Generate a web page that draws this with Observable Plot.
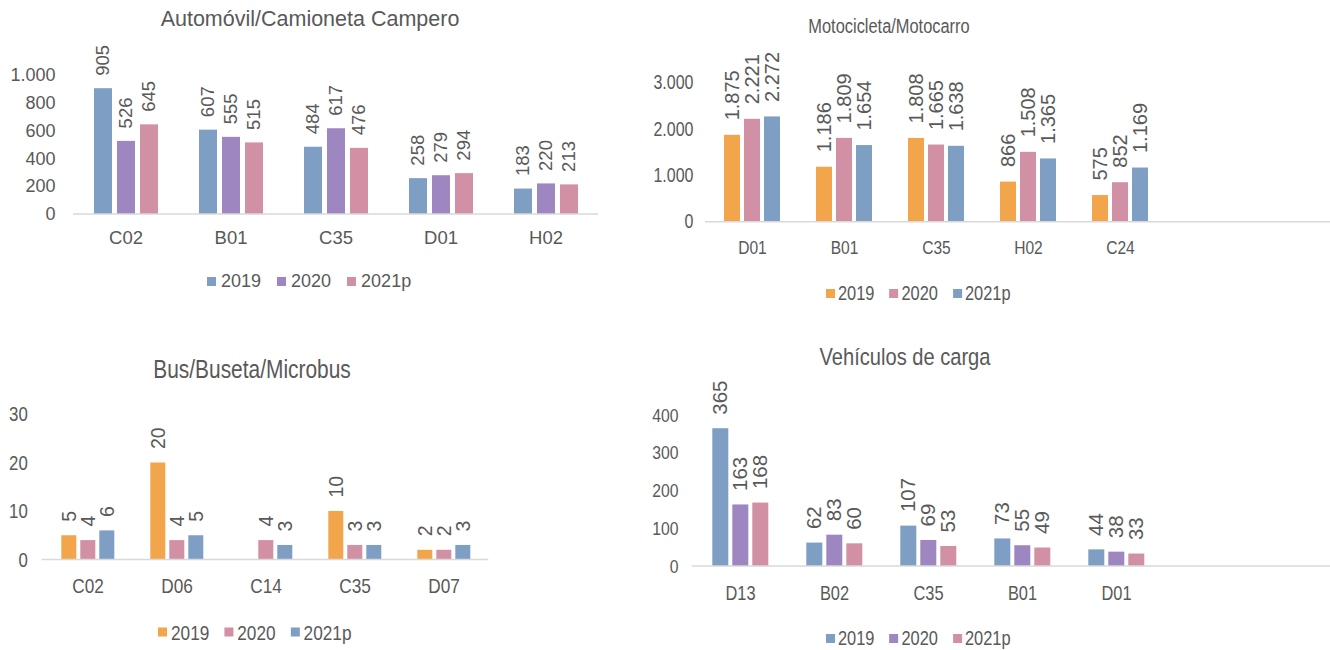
<!DOCTYPE html>
<html><head><meta charset="utf-8">
<script src="https://cdn.jsdelivr.net/npm/d3@7"></script>
<script src="https://cdn.jsdelivr.net/npm/@observablehq/plot@0.6"></script>
<style>
body{margin:0;background:#fff;}
#root{position:relative;width:1330px;height:650px;overflow:hidden;background:#fff;font-family:"Liberation Sans",Arial,sans-serif;color:#595959;}
.title{position:absolute;white-space:nowrap;line-height:1;}
.legend{position:absolute;display:flex;align-items:center;white-space:nowrap;line-height:1;}
.sw{display:inline-block;}
.svgwrap{position:absolute;}
.svgwrap svg{overflow:visible;}
</style></head><body><div id="root"></div>
<script>
// ---------- data ----------
const years = ["2019", "2020", "2021p"];

const autoCats = ["C02", "B01", "C35", "D01", "H02"];
const auto2019 = [905, 607, 484, 258, 183];
const auto2020 = [526, 555, 617, 279, 220];
const auto2021p = [645, 515, 476, 294, 213];
const autoTicks = [0, 200, 400, 600, 800, 1000];

const motoCats = ["D01", "B01", "C35", "H02", "C24"];
const moto2019 = [1875, 1186, 1808, 866, 575];
const moto2020 = [2221, 1809, 1665, 1508, 852];
const moto2021p = [2272, 1654, 1638, 1365, 1169];
const motoTicks = [0, 1000, 2000, 3000];

const busCats = ["C02", "D06", "C14", "C35", "D07"];
const bus2019 = [5, 20, null, 10, 2];
const bus2020 = [4, 4, 4, 3, 2];
const bus2021p = [6, 5, 3, 3, 3];
const busTicks = [0, 10, 20, 30];

const cargaCats = ["D13", "B02", "C35", "B01", "D01"];
const carga2019 = [365, 62, 107, 73, 44];
const carga2020 = [163, 83, 69, 55, 38];
const carga2021p = [168, 60, 53, 49, 33];
const cargaTicks = [0, 100, 200, 300, 400];

// ---------- styles ----------
const BLUE = "#7f9ec4", PURPLE = "#9e86c0", PINK = "#d290a4", ORANGE = "#f2a54a";
const GRAY = "#595959";
const REG = "'Liberation Sans', Arial, sans-serif";
const NARROW = 0.82; // horizontal compression emulating Arial Narrow
const loc = d3.formatLocale({decimal: ",", thousands: ".", grouping: [3], currency: ["$", ""]});
const fmt = loc.format(",d");

const root = document.getElementById("root");

function squeeze(textEl, k) {
  const ax = parseFloat(textEl.getAttribute("x")) || 0;
  const tr = textEl.getAttribute("transform") || "";
  textEl.setAttribute("transform", `${tr} translate(${ax},0) scale(${k},1) translate(${-ax},0)`);
}

function build(cfg) {
  const k = cfg.narrow ? NARROW : 1;
  const data = [];
  cfg.cats.forEach((c, i) => years.forEach((yr, j) => {
    const v = cfg.series[j][i];
    if (v != null) data.push({cat: c, year: yr, value: v});
  }));

  // title
  const t = document.createElement("div");
  t.className = "title";
  t.textContent = cfg.title;
  Object.assign(t.style, {left: cfg.titleX + "px", top: cfg.titleY + "px", fontSize: cfg.titleSize + "px",
    fontFamily: REG, transform: `translate(-50%,-50%) scaleX(${k})`});
  root.appendChild(t);

  const plot = Plot.plot({
    width: cfg.w, height: cfg.h,
    marginLeft: cfg.ml, marginRight: cfg.mr, marginTop: cfg.mt, marginBottom: cfg.mb,
    style: {color: GRAY, fontFamily: REG, background: "transparent", overflow: "visible"},
    fx: {domain: cfg.cats, range: [cfg.ml, cfg.w - cfg.mrFx], padding: 0, label: null},
    x: {domain: years, paddingInner: 0.22, paddingOuter: 0.86, axis: null},
    y: {domain: [0, cfg.ticks[cfg.ticks.length - 1]], label: null},
    color: {domain: years, range: cfg.colors},
    marks: [
      Plot.axisY({ticks: cfg.ticks, tickSize: 0, tickPadding: cfg.yPad, tickFormat: fmt, fontSize: cfg.yFontSize, label: null}),
      Plot.axisFx({anchor: "bottom", tickSize: 0, tickPadding: cfg.xPad, fontSize: cfg.xFontSize, label: null}),
      Plot.barY(data, {fx: "cat", x: "year", y: "value", fill: "year"}),
      Plot.text(data, {fx: "cat", x: "year", y: "value", text: d => fmt(d.value), rotate: -90, textAnchor: "start",
        dy: -cfg.gap, fontSize: cfg.labelSize, fontFamily: REG, fill: GRAY})
    ]
  });
  // condensed axis labels
  if (cfg.narrow) plot.querySelectorAll('g[aria-label$="tick label"] text').forEach(el => squeeze(el, k));
  // baseline (category axis line) at y = 0 through the plot's own y scale
  const y0 = plot.scale("y").apply(0);
  const line = document.createElementNS("http://www.w3.org/2000/svg", "line");
  line.setAttribute("x1", cfg.ml); line.setAttribute("x2", cfg.w - cfg.mr);
  line.setAttribute("y1", y0); line.setAttribute("y2", y0);
  line.setAttribute("stroke", "#d9d9d9"); line.setAttribute("stroke-width", 1.5);
  plot.appendChild(line);

  const wrap = document.createElement("div");
  wrap.className = "svgwrap";
  Object.assign(wrap.style, {left: cfg.left + "px", top: cfg.top + "px"});
  wrap.appendChild(plot);
  root.appendChild(wrap);

  // legend (scaled as a whole for the condensed look; sizes compensated)
  const lg = document.createElement("div");
  lg.className = "legend";
  Object.assign(lg.style, {left: cfg.legX + "px", top: cfg.legY + "px", fontSize: cfg.legSize + "px", fontFamily: REG,
    transformOrigin: "0 50%", transform: `translateY(-50%) scaleX(${k})`});
  years.forEach((yr, j) => {
    const sw = document.createElement("span");
    sw.className = "sw";
    sw.style.background = cfg.colors[j];
    sw.style.width = (9 / k) + "px";
    sw.style.height = "9px";
    sw.style.marginRight = (cfg.legSwGap / k) + "px";
    const tx = document.createElement("span");
    tx.textContent = yr;
    if (j < years.length - 1) tx.style.marginRight = (cfg.legItemGap / k) + "px";
    lg.appendChild(sw); lg.appendChild(tx);
  });
  root.appendChild(lg);
}

build({
  title: "Automóvil/Camioneta Campero", titleX: 310, titleY: 20, titleSize: 21.5, narrow: false,
  cats: autoCats, series: [auto2019, auto2020, auto2021p], colors: [BLUE, PURPLE, PINK], ticks: autoTicks,
  left: 0, top: 30, w: 620, h: 230, ml: 73, mr: 22, mrFx: 22, mt: 45, mb: 46,
  yFontSize: 18, yPad: 18, xFontSize: 18.5, xPad: 16.5,
  labelSize: 18.5, gap: 13,
  legX: 207, legY: 281, legSize: 18, legSwGap: 5, legItemGap: 16
});

build({
  title: "Motocicleta/Motocarro", titleX: 889, titleY: 26, titleSize: 20, narrow: true,
  cats: motoCats, series: [moto2019, moto2020, moto2021p], colors: [ORANGE, PINK, BLUE], ticks: motoTicks,
  left: 640, top: 40, w: 690, h: 225, ml: 65, mr: 0, mrFx: 163.5, mt: 42.7, mb: 43.3,
  yFontSize: 19.5, yPad: 13, xFontSize: 19, xPad: 18.5,
  labelSize: 20, gap: 15,
  legX: 826, legY: 293, legSize: 20, legSwGap: 3, legItemGap: 15
});

build({
  title: "Bus/Buseta/Microbus", titleX: 252, titleY: 370, titleSize: 25.5, narrow: true,
  cats: busCats, series: [bus2019, bus2020, bus2021p], colors: [ORANGE, PINK, BLUE], ticks: busTicks,
  left: 0, top: 390, w: 620, h: 210, ml: 41.7, mr: 131.7, mrFx: 131.7, mt: 24, mb: 40.5,
  yFontSize: 20.5, yPad: 15.7, xFontSize: 21, xPad: 18,
  labelSize: 19.5, gap: 14,
  legX: 158, legY: 632, legSize: 21, legSwGap: 4, legItemGap: 15
});

build({
  title: "Vehículos de carga", titleX: 905, titleY: 357, titleSize: 24.5, narrow: true,
  cats: cargaCats, series: [carga2019, carga2020, carga2021p], colors: [BLUE, PURPLE, PINK], ticks: cargaTicks,
  left: 640, top: 380, w: 690, h: 230, ml: 51.7, mr: 0, mrFx: 164.8, mt: 35, mb: 44,
  yFontSize: 19.2, yPad: 15, xFontSize: 20, xPad: 19,
  labelSize: 20.5, gap: 14,
  legX: 826, legY: 638, legSize: 20, legSwGap: 3, legItemGap: 15
});
</script>
</body></html>
